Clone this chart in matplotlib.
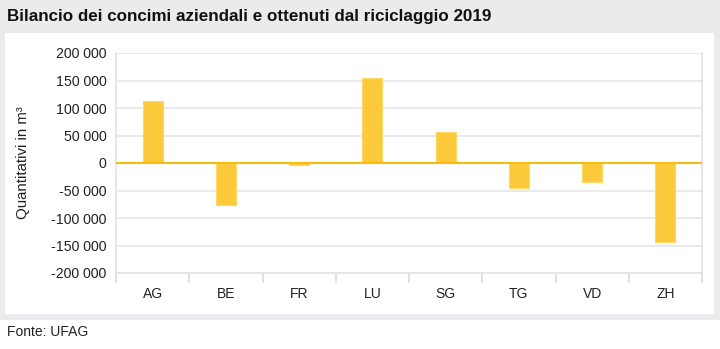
import matplotlib
matplotlib.use("Agg")
import matplotlib.pyplot as plt
from matplotlib.patches import Rectangle
from matplotlib.ticker import FuncFormatter, FixedLocator
import numpy as np

categories = ["AG", "BE", "FR", "LU", "SG", "TG", "VD", "ZH"]
values = [113000, -77000, -4500, 155000, 57000, -46000, -34500, -143500]
yticks = [-200000, -150000, -100000, -50000, 0, 50000, 100000, 150000, 200000]

title = "Bilancio dei concimi aziendali e ottenuti dal riciclaggio 2019"
ylabel = "Quantitativi in m³"
source = "Fonte: UFAG"

fam = ["Liberation Sans", "DejaVu Sans"]
plt.rcParams['font.family'] = fam

fig = plt.figure(figsize=(7.2, 3.49), dpi=100)
fig.patch.set_facecolor("white")
fig.add_artist(Rectangle((0, 1 - 320/349), 1, 320/349, transform=fig.transFigure,
                         facecolor="#ebebed", edgecolor="none", zorder=0))
fig.add_artist(Rectangle((5/720, 1 - 314/349), 709/720, 281/349, transform=fig.transFigure,
                         facecolor="white", edgecolor="none", zorder=0))

ax = fig.add_axes([116/720, 1 - 273/349, 586/720, 220/349])
ax.set_facecolor("white")
x = np.arange(len(categories))
ax.bar(x, values, width=0.27, color="#fcca3a", edgecolor="#fdd866", linewidth=0.8, zorder=3)
ax.axhline(0, color="#f7bb14", linewidth=1.5, zorder=4)

ax.set_xlim(-0.5, len(categories) - 0.5)
ax.set_ylim(-200000, 200000)
ax.set_yticks(yticks)
ax.yaxis.set_major_formatter(FuncFormatter(lambda v, p: f"{int(v):,}".replace(",", " ")))
ax.grid(axis="y", color="#e6e6e6", linewidth=1.2, zorder=0)
ax.tick_params(axis="y", length=0, labelsize=10.2, colors="#222222", pad=7)

ax.set_xticks(x)
ax.set_xticklabels(categories, fontsize=10, color="#222222")
ax.xaxis.set_minor_locator(FixedLocator(np.arange(-0.5, len(categories), 1)))
ax.tick_params(axis="x", which="major", length=0, pad=10)
ax.tick_params(axis="x", which="minor", length=7, color="#dcdcdc", width=1.2)

for s in ["left", "right", "bottom", "top"]:
    ax.spines[s].set_color("#e3e3e3")
    ax.spines[s].set_linewidth(1.2)
ax.spines["top"].set_visible(False)

ax.set_ylabel(ylabel, fontsize=10.8, color="#222222", labelpad=15)

t = fig.text(7/720, 1 - 17/349, title, fontsize=13, fontweight="bold",
             va="center", ha="left", color="#111111")
fig.text(7/720, 1 - 332/349, source, fontsize=10, va="center",
         ha="left", color="#222222")

fig.canvas.draw()
r = fig.canvas.get_renderer()
w = t.get_window_extent(r).width
t.set_fontsize(t.get_fontsize() * 483 / w)

fig.savefig("out.png", dpi=100)
